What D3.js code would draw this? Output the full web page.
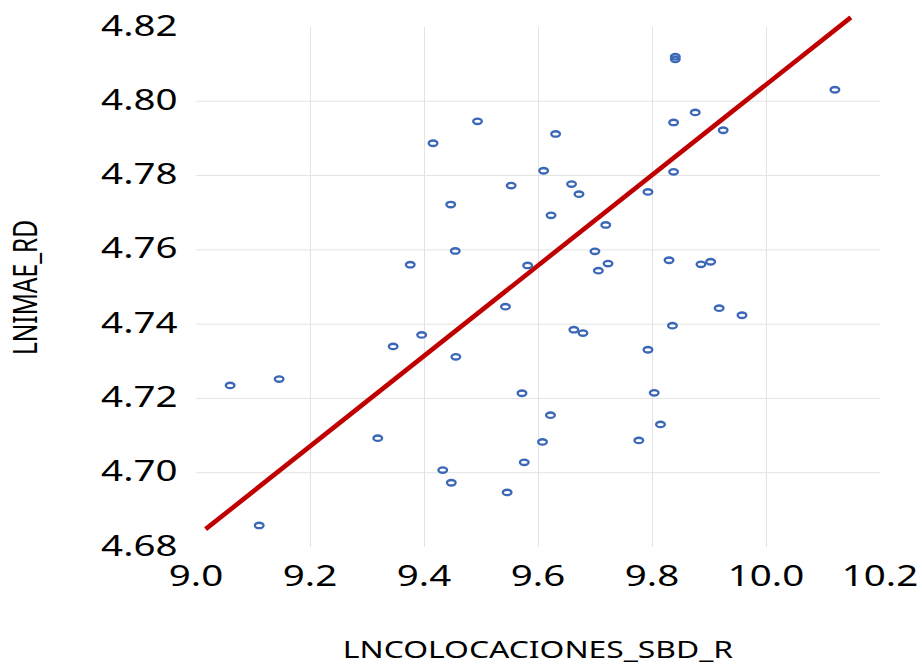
<!DOCTYPE html>
<html><head><meta charset="utf-8">
<script src="https://cdn.jsdelivr.net/npm/d3@7"></script>
<style>html,body{margin:0;padding:0;background:#fff;}</style>
</head><body>
<svg id="chart" width="922" height="667"></svg>
<script>
const xValues = [9.840, 9.840, 10.120, 9.493, 9.875, 9.837, 9.630, 9.924, 9.609, 9.837,
  9.552, 9.658, 9.671, 9.792, 9.622, 9.718, 9.699, 9.454, 9.581, 9.722,
  9.705, 9.829, 9.885, 9.902, 9.542, 9.917, 9.957, 9.662, 9.678, 9.835,
  9.415, 9.446, 9.375, 9.395, 9.345, 9.455, 9.059, 9.145, 9.318, 9.432,
  9.447, 9.110, 9.792, 9.571, 9.803, 9.621, 9.814, 9.607, 9.776, 9.575, 9.545];
const yValues = [4.8120, 4.8113, 4.8031, 4.7946, 4.7970, 4.7943, 4.7912, 4.7922, 4.7813, 4.7810,
  4.7773, 4.7777, 4.7750, 4.7756, 4.7693, 4.7667, 4.7596, 4.7597, 4.7558, 4.7563,
  4.7544, 4.7572, 4.7561, 4.7568, 4.7447, 4.7443, 4.7424, 4.7385, 4.7376, 4.7396,
  4.7887, 4.7722, 4.7560, 4.7371, 4.7340, 4.7312, 4.7235, 4.7252, 4.7093, 4.7007,
  4.6973, 4.6858, 4.7331, 4.7214, 4.7215, 4.7155, 4.7130, 4.7083, 4.7087, 4.7028, 4.6947];
const trendX = [9.016, 10.148];
const trendY = [4.6848, 4.8226];
const xTicks = [9.0, 9.2, 9.4, 9.6, 9.8, 10.0, 10.2];
const yTicks = [4.68, 4.70, 4.72, 4.74, 4.76, 4.78, 4.80, 4.82];
const xTitle = "LNCOLOCACIONES_SBD_R";
const yTitle = "LNIMAE_RD";

const SX = 1.31;
const FONT = "'Noto Sans', 'Open Sans', sans-serif";
const svg = d3.select("#chart");
const x = d3.scaleLinear().domain([9.0, 10.2]).range([196.5, 880.5]);
const y = d3.scaleLinear().domain([4.68, 4.82]).range([547, 27]);

// gridlines (interior only)
const grid = svg.append("g");
grid.selectAll("line.v").data(xTicks.slice(1, -1)).join("line")
  .attr("x1", d => x(d)).attr("x2", d => x(d))
  .attr("y1", y(4.82)).attr("y2", y(4.68))
  .attr("stroke", "#e3e3e3").attr("stroke-width", 1);
grid.selectAll("line.h").data(yTicks.slice(1, -1)).join("line")
  .attr("x1", x(9.0)).attr("x2", x(10.2))
  .attr("y1", d => y(d)).attr("y2", d => y(d))
  .attr("stroke", "#e3e3e3").attr("stroke-width", 1);

// axes
const yAxis = svg.append("g").attr("transform", `translate(${x(9.0)},0)`)
  .call(d3.axisLeft(y).tickValues(yTicks).tickFormat(d3.format(".2f")).tickSize(0));
yAxis.select(".domain").remove();
yAxis.selectAll("text")
  .attr("x", null).attr("dy", null)
  .attr("transform", "translate(-19,8) scale(" + SX + ",1)")
  .attr("text-anchor", "end")
  .style("font-family", FONT).style("font-size", "29.4px").attr("fill", "#000");

const xAxis = svg.append("g").attr("transform", `translate(0,${y(4.68)})`)
  .call(d3.axisBottom(x).tickValues(xTicks).tickFormat(d3.format(".1f")).tickSize(0));
xAxis.select(".domain").remove();
xAxis.selectAll("text")
  .attr("y", null).attr("dy", null)
  .attr("transform", "translate(-1,39) scale(" + SX + ",1)")
  .attr("text-anchor", "middle")
  .style("font-family", FONT).style("font-size", "29.4px").attr("fill", "#000");

// trendline
const pts = xValues.map((v, i) => ({x: v, y: yValues[i]}));
const trend = trendX.map((v, i) => [v, trendY[i]]);
svg.append("path").datum(trend)
  .attr("d", d3.line().x(d => x(d[0])).y(d => y(d[1])))
  .attr("stroke", "#C00000").attr("stroke-width", 4.6).attr("fill", "none");

// points
svg.append("g").selectAll("ellipse").data(pts).join("ellipse")
  .attr("cx", d => x(d.x)).attr("cy", d => y(d.y))
  .attr("rx", 4.3).attr("ry", 2.7)
  .attr("fill", "none").attr("stroke", "#3b67b8").attr("stroke-width", 2.4);

// titles
svg.append("text").text(xTitle)
  .attr("transform", "translate(538,658) scale(" + SX + ",1)")
  .attr("text-anchor", "middle")
  .style("font-family", FONT).style("font-size", "24.3px").attr("fill", "#000");
svg.append("text").text(yTitle)
  .attr("transform", "translate(37,287.5) scale(" + SX + ",1) rotate(-90)")
  .attr("text-anchor", "middle")
  .style("font-family", FONT).style("font-size", "24.5px").attr("fill", "#000");
</script>
</body></html>
